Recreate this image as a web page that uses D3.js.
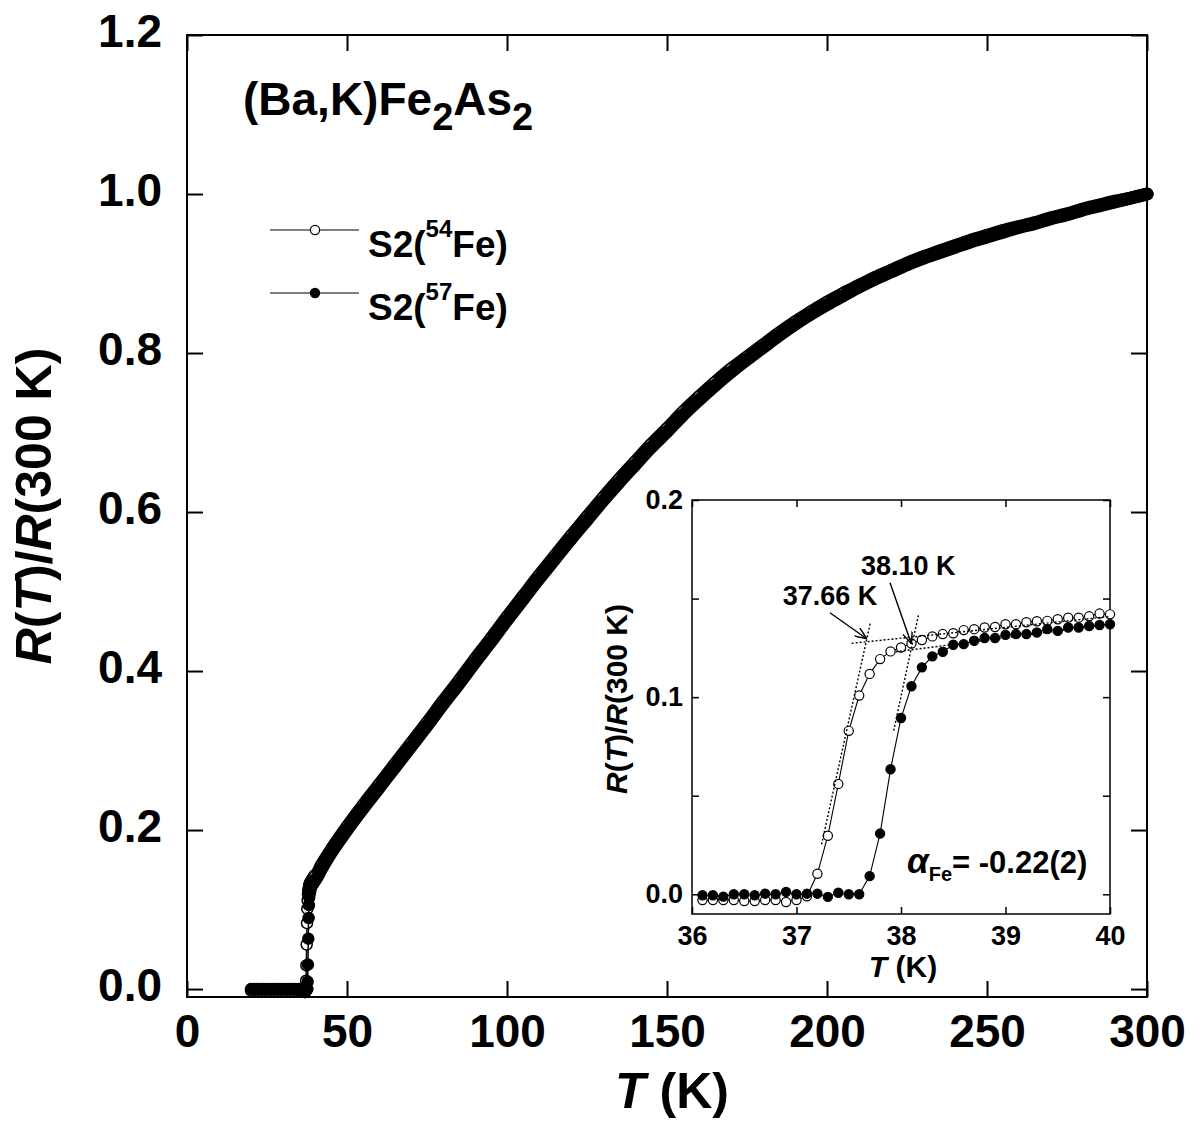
<!DOCTYPE html>
<html>
<head>
<meta charset="utf-8">
<script src="https://cdn.jsdelivr.net/npm/d3@7"></script>
<style>
  body { margin: 0; background: #fff; }
  svg { display: block; }
  text { font-family: "Liberation Sans", Arial, sans-serif; font-weight: bold; fill: #000; }
</style>
</head>
<body>
<svg id="chart" width="1202" height="1124"></svg>
<script>
// ---- Measured resistance R(T)/R(300 K) for the two isotope samples ----

// Superconducting state below the transition (K)
const lowT   = [20,21,22,23,24,25,26,27,28,29,30,31,32,33,34,35,36];
const lowR54 = [-0.002,-0.002,-0.002,-0.002,-0.002,-0.002,-0.002,-0.002,-0.002,-0.002,-0.002,-0.002,-0.002,-0.002,-0.002,-0.002,-0.002];
const lowR57 = [0.000,0.000,0.000,0.000,0.000,0.000,0.000,0.000,0.000,0.000,0.000,0.000,0.000,0.000,0.000,0.000,0.000];

// Transition region, 0.1 K steps (also shown enlarged in the inset)
const transT = [36.1,36.2,36.3,36.4,36.5,36.6,36.7,36.8,36.9,37.0,
                37.1,37.2,37.3,37.4,37.5,37.6,37.7,37.8,37.9,38.0,
                38.1,38.2,38.3,38.4,38.5,38.6,38.7,38.8,38.9,39.0,
                39.1,39.2,39.3,39.4,39.5,39.6,39.7,39.8,39.9,40.0];
const transR54 = [-0.0029,-0.0029,-0.0029,-0.0029,-0.0034,-0.0034,-0.0029,-0.0029,-0.0039,-0.0029,
                  -0.0010,0.0104,0.0297,0.0560,0.0829,0.1008,0.1118,0.1193,0.1232,0.1252,
                  0.1272,0.1290,0.1308,0.1320,0.1324,0.1340,0.1345,0.1353,0.1356,0.1370,
                  0.1370,0.1380,0.1385,0.1387,0.1395,0.1403,0.1403,0.1410,0.1424,0.1420];
const transR57 = [-0.0005,-0.0005,-0.0012,0.0000,0.0000,-0.0005,0.0003,0.0000,0.0012,0.0000,
                  0.0003,0.0003,-0.0013,0.0008,0.0000,0.0000,0.0092,0.0308,0.0634,0.0894,
                  0.1055,0.1151,0.1207,0.1230,0.1266,0.1269,0.1286,0.1300,0.1300,0.1316,
                  0.1320,0.1320,0.1328,0.1345,0.1336,0.1353,0.1353,0.1361,0.1366,0.1370];

// Normal state up to room temperature
const highT   = [42,45,50,55,60,65,70,75,80,85,90,95,100,105,110,115,120,125,130,135,140,145,150,
                 155,160,165,170,175,180,185,190,195,200,205,210,215,220,225,230,235,240,245,250,
                 255,260,265,270,275,280,285,290,295,300];
const highR54 = [0.156,0.175,0.204,0.231,0.257,0.283,0.309,0.335,0.362,0.388,0.415,0.441,0.468,0.494,0.520,0.545,0.570,0.594,0.618,0.641,0.663,0.685,0.705,
                 0.726,0.745,0.763,0.780,0.795,0.810,0.825,0.839,0.852,0.864,0.875,0.885,0.895,0.904,0.913,0.921,0.928,0.935,0.942,0.948,
                 0.954,0.959,0.964,0.970,0.975,0.981,0.986,0.991,0.995,1.000];
const highR57 = [0.151,0.171,0.200,0.227,0.253,0.279,0.305,0.331,0.358,0.384,0.411,0.437,0.464,0.490,0.516,0.541,0.566,0.590,0.614,0.637,0.659,0.681,0.701,
                 0.722,0.741,0.759,0.776,0.792,0.807,0.822,0.836,0.849,0.861,0.872,0.883,0.893,0.902,0.911,0.919,0.926,0.933,0.940,0.946,
                 0.952,0.958,0.963,0.969,0.974,0.980,0.985,0.990,0.995,1.000];

// Axis ticks
const mainXTicks = [0,50,100,150,200,250,300];
const mainYTicks = [0,0.2,0.4,0.6,0.8,1.0,1.2];
const insetXTicks = [36,37,38,39,40];
const insetYTicks = [0,0.1,0.2];
const insetYMinor = [0.05,0.15];

// Onset construction lines in the inset: [T, R] end points
const onset54Tangent = [[37.24,0.0253],[37.707,0.1378]];
const onset54Normal  = [[37.528,0.1273],[40.0,0.1409]];
const onset57Tangent = [[37.93,0.0830],[38.17,0.1424]];
const onset57Normal  = [[37.95,0.1230],[40.0,0.1370]];
const arrow3766 = [[37.32,0.1428],[37.672,0.1296]];
const arrow3810 = [[37.895,0.158],[38.10,0.127]];

const toPts = (ts, rs) => ts.map((t, i) => ({t, r: rs[i]}));
const s54 = toPts(lowT.concat(transT, highT), lowR54.concat(transR54, highR54));
const s57 = toPts(lowT.concat(transT, highT), lowR57.concat(transR57, highR57));

const svg = d3.select('#chart');
const FONT = '"Liberation Sans", Arial, sans-serif';

// ---------------- Main panel ----------------
const x = d3.scaleLinear().domain([0, 300]).range([187, 1147]);
const y = d3.scaleLinear().domain([-0.01, 1.2]).range([997, 35]);

function styleAxis(g, size, width) {
  g.attr('font-family', FONT).attr('font-weight', 'bold').attr('font-size', size);
  g.select('.domain').remove();
  g.selectAll('.tick line').attr('stroke', '#000').attr('stroke-width', width);
  g.selectAll('.tick text').attr('fill', '#000');
}

const gB = svg.append('g').attr('transform', 'translate(0,997)')
  .call(d3.axisBottom(x).tickValues(mainXTicks).tickSize(-16).tickPadding(17).tickFormat(d3.format('d')));
styleAxis(gB, 46, 2);
const gT = svg.append('g').attr('transform', 'translate(0,35)')
  .call(d3.axisTop(x).tickValues(mainXTicks).tickSize(-16).tickFormat(''));
styleAxis(gT, 46, 2);
const gL = svg.append('g').attr('transform', 'translate(187,0)')
  .call(d3.axisLeft(y).tickValues(mainYTicks).tickSize(-16).tickPadding(25).tickFormat(d3.format('.1f')));
styleAxis(gL, 46, 2);
gL.selectAll('.tick text').attr('dy', '0.24em');
const gR = svg.append('g').attr('transform', 'translate(1147,0)')
  .call(d3.axisRight(y).tickValues(mainYTicks).tickSize(-16).tickFormat(''));
styleAxis(gR, 46, 2);

svg.append('rect').attr('x', 187).attr('y', 35).attr('width', 960).attr('height', 962)
  .attr('fill', 'none').attr('stroke', '#000').attr('stroke-width', 2);

const mainLine = d3.line().x(d => x(d.t)).y(d => y(d.r)).curve(d3.curveMonotoneX);
const R_MAIN = 5.5;

function drawMainSeries(data, filled) {
  const g = svg.append('g');
  // dense normal-state data merge into a solid band of markers
  g.append('path').datum(data.filter(d => d.t >= 38.3))
    .attr('d', mainLine).attr('fill', 'none').attr('stroke', '#000')
    .attr('stroke-width', 2 * R_MAIN + 2).attr('stroke-linejoin', 'round').attr('stroke-linecap', 'round');
  g.append('path').datum(data).attr('d', mainLine)
    .attr('fill', 'none').attr('stroke', '#000').attr('stroke-width', 1.5);
  g.selectAll('circle').data(data).join('circle')
    .attr('cx', d => x(d.t)).attr('cy', d => y(d.r)).attr('r', R_MAIN)
    .attr('fill', filled ? '#000' : '#fff').attr('stroke', '#000').attr('stroke-width', 1.5);
}
drawMainSeries(s54, false);
drawMainSeries(s57, true);

// Compound label
const title = svg.append('text').attr('x', 243).attr('y', 115).attr('font-size', 46);
title.append('tspan').text('(Ba,K)Fe');
title.append('tspan').attr('font-size', 38).attr('dy', 15).text('2');
title.append('tspan').attr('dy', -15).text('As');
title.append('tspan').attr('font-size', 38).attr('dy', 15).text('2');

// Legend
const legend = [
  {y: 230, filled: false, iso: '54'},
  {y: 293, filled: true,  iso: '57'}
];
legend.forEach(L => {
  svg.append('line').attr('x1', 270).attr('x2', 359).attr('y1', L.y).attr('y2', L.y)
    .attr('stroke', '#000').attr('stroke-width', 1.2);
  svg.append('circle').attr('cx', 315).attr('cy', L.y).attr('r', 4.6)
    .attr('fill', L.filled ? '#000' : '#fff').attr('stroke', '#000').attr('stroke-width', 1.2);
  const t = svg.append('text').attr('x', 368).attr('y', L.y + 27).attr('font-size', 37);
  t.append('tspan').text('S2(');
  t.append('tspan').attr('font-size', 24).attr('dy', -20).text(L.iso);
  t.append('tspan').attr('dy', 20).text('Fe)');
});

// Axis titles
const xt = svg.append('text').attr('x', 672).attr('y', 1108).attr('font-size', 50).attr('text-anchor', 'middle');
xt.append('tspan').attr('font-style', 'italic').text('T');
xt.append('tspan').text(' (K)');

const yt = svg.append('text').attr('transform', 'translate(51,506) rotate(-90)')
  .attr('font-size', 50).attr('text-anchor', 'middle');
yt.append('tspan').attr('font-style', 'italic').text('R');
yt.append('tspan').text('(');
yt.append('tspan').attr('font-style', 'italic').text('T');
yt.append('tspan').text(')/');
yt.append('tspan').attr('font-style', 'italic').text('R');
yt.append('tspan').text('(300 K)');

// ---------------- Inset: the superconducting transition ----------------
const ix = d3.scaleLinear().domain([36, 40]).range([692, 1110]);
const iy = d3.scaleLinear().domain([-0.01, 0.2]).range([914, 500]);

svg.append('rect').attr('x', 692).attr('y', 500).attr('width', 418).attr('height', 414).attr('fill', '#fff');

const iB = svg.append('g').attr('transform', 'translate(0,914)')
  .call(d3.axisBottom(ix).tickValues(insetXTicks).tickSize(-7).tickPadding(12).tickFormat(d3.format('d')));
styleAxis(iB, 27, 1.5);
const iT = svg.append('g').attr('transform', 'translate(0,500)')
  .call(d3.axisTop(ix).tickValues(insetXTicks).tickSize(-7).tickFormat(''));
styleAxis(iT, 27, 1.5);
const iL = svg.append('g').attr('transform', 'translate(692,0)')
  .call(d3.axisLeft(iy).tickValues(insetYTicks.concat(insetYMinor)).tickSize(-7).tickPadding(9)
    .tickFormat(d => insetYTicks.includes(d) ? d3.format('.1f')(d) : ''));
styleAxis(iL, 27, 1.5);
const iR = svg.append('g').attr('transform', 'translate(1110,0)')
  .call(d3.axisRight(iy).tickValues(insetYTicks.concat(insetYMinor)).tickSize(-7).tickFormat(''));
styleAxis(iR, 27, 1.5);

svg.append('rect').attr('x', 692).attr('y', 500).attr('width', 418).attr('height', 414)
  .attr('fill', 'none').attr('stroke', '#000').attr('stroke-width', 1.5);

const insetLine = d3.line().x(d => ix(d[0])).y(d => iy(d[1]));
const i54 = transT.map((t, i) => [t, transR54[i]]);
const i57 = transT.map((t, i) => [t, transR57[i]]);

function drawInsetSeries(data, filled) {
  const g = svg.append('g');
  g.append('path').datum(data).attr('d', insetLine)
    .attr('fill', 'none').attr('stroke', '#000').attr('stroke-width', 1.1);
  g.selectAll('circle').data(data).join('circle')
    .attr('cx', d => ix(d[0])).attr('cy', d => iy(d[1])).attr('r', 4.6)
    .attr('fill', filled ? '#000' : '#fff').attr('stroke', '#000').attr('stroke-width', 1.2);
}
drawInsetSeries(i54, false);
drawInsetSeries(i57, true);

// Onset construction (dotted)
[onset54Tangent, onset54Normal, onset57Tangent, onset57Normal].forEach(seg => {
  svg.append('path').datum(seg).attr('d', insetLine)
    .attr('fill', 'none').attr('stroke', '#000').attr('stroke-width', 1.4).attr('stroke-dasharray', '2,2');
});

// Arrows pointing at the onset temperatures
svg.append('defs').append('marker')
  .attr('id', 'arrowhead').attr('viewBox', '0 0 12 10').attr('refX', 12).attr('refY', 5)
  .attr('markerWidth', 12).attr('markerHeight', 10).attr('markerUnits', 'userSpaceOnUse')
  .attr('orient', 'auto')
  .append('path').attr('d', 'M0,0 L12,5 L0,10').attr('fill', 'none').attr('stroke', '#000').attr('stroke-width', 1.4);
[arrow3766, arrow3810].forEach(a => {
  svg.append('line')
    .attr('x1', ix(a[0][0])).attr('y1', iy(a[0][1]))
    .attr('x2', ix(a[1][0])).attr('y2', iy(a[1][1]))
    .attr('stroke', '#000').attr('stroke-width', 1.4).attr('marker-end', 'url(#arrowhead)');
});

svg.append('text').attr('x', ix(37.32)).attr('y', iy(0.1468)).attr('font-size', 27)
  .attr('text-anchor', 'middle').text('37.66 K');
svg.append('text').attr('x', ix(38.07)).attr('y', iy(0.162)).attr('font-size', 27)
  .attr('text-anchor', 'middle').text('38.10 K');

const alpha = svg.append('text').attr('x', 907).attr('y', 873).attr('font-size', 31);
alpha.append('tspan').attr('font-style', 'italic').attr('font-size', 35).text('α');
alpha.append('tspan').attr('font-size', 20).attr('dy', 8).text('Fe');
alpha.append('tspan').attr('dy', -8).text('= -0.22(2)');

// Inset axis titles
const ixt = svg.append('text').attr('x', 903).attr('y', 977).attr('font-size', 30).attr('text-anchor', 'middle');
ixt.append('tspan').attr('font-style', 'italic').text('T');
ixt.append('tspan').text(' (K)');

const iyt = svg.append('text').attr('transform', 'translate(627,699) rotate(-90)')
  .attr('font-size', 30).attr('text-anchor', 'middle');
iyt.append('tspan').attr('font-style', 'italic').text('R');
iyt.append('tspan').text('(');
iyt.append('tspan').attr('font-style', 'italic').text('T');
iyt.append('tspan').text(')/');
iyt.append('tspan').attr('font-style', 'italic').text('R');
iyt.append('tspan').text('(300 K)');
</script>
</body>
</html>
